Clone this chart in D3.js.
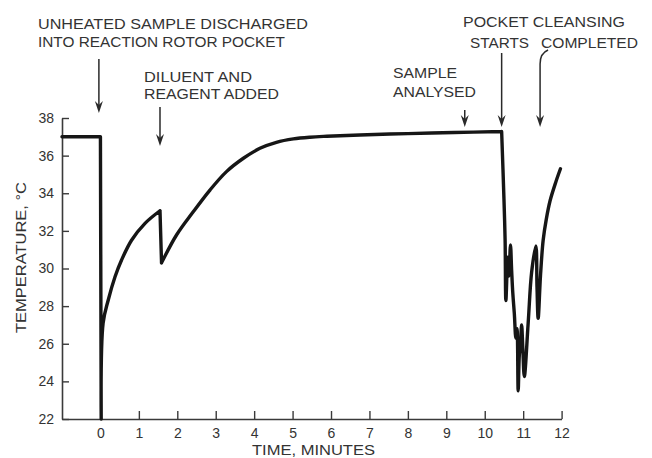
<!DOCTYPE html>
<html>
<head>
<meta charset="utf-8">
<script src="https://cdn.jsdelivr.net/npm/d3@7/dist/d3.min.js"></script>
<style>
  html, body { margin: 0; padding: 0; background: #fff; }
  svg { display: block; }
  text { font-family: "Liberation Sans", Arial, sans-serif; fill: #333; }
</style>
</head>
<body>
<svg id="chart" width="652" height="458"></svg>
<script>
// Temperature in the reaction rotor pocket over one analysis cycle
const times = [-1, 0, 0.02, 0.07, 0.2, 0.38, 0.55, 0.81, 1.16, 1.55,
  1.59, 1.98, 2.41, 2.85, 3.28, 3.72, 4.15, 4.58, 5.02, 5.45, 5.89, 6.75, 8, 9.2, 10.44,
  10.5, 10.53, 10.55, 10.6, 10.63, 10.67, 10.7, 10.73, 10.77, 10.81, 10.84, 10.87,
  10.9, 10.93, 10.96, 10.99, 11.03, 11.13, 11.22, 11.33, 11.36, 11.39, 11.45, 11.52,
  11.6, 11.7, 11.85, 11.97];
const temps = [37, 37, 22, 27.1, 28.3, 29.56, 30.45, 31.5, 32.4, 33.07,
  30.3, 31.78, 33.0, 34.17, 35.15, 35.86, 36.39, 36.71, 36.89, 36.98, 37.03, 37.1, 37.17, 37.23, 37.28,
  33.7, 31.5, 28.3, 30.6, 29.6, 31.25, 29.9, 28.7, 27.6, 26.3, 26.8, 23.5,
  25.4, 26.0, 27.0, 25.8, 24.25, 27.1, 29.8, 31.2, 29.0, 27.35, 29.6, 31.5,
  32.6, 33.6, 34.6, 35.3];
// times at which the trace turns sharply (drops and recoveries)
const cornerTimes = [0, 0.02, 1.55, 1.59, 10.44];

const xTicks = [0, 1, 2, 3, 4, 5, 6, 7, 8, 9, 10, 11, 12];
const yTicks = [22, 24, 26, 28, 30, 32, 34, 36, 38];

// Event annotations: time of the arrow and its label lines
const eventTimes = [-0.04, 1.55, 9.48, 10.44, 11.44];
const eventLabels = [
  ["UNHEATED SAMPLE DISCHARGED", "INTO REACTION ROTOR POCKET"],
  ["DILUENT AND", "REAGENT ADDED"],
  ["SAMPLE", "ANALYSED"],
  ["POCKET CLEANSING", "STARTS"],
  ["COMPLETED"]
];

const svg = d3.select("#chart");
const x = d3.scaleLinear().domain([-1, 12]).range([62, 561.6]);
const y = d3.scaleLinear().domain([22, 38]).range([419, 118]);

const axisColor = "#3a3a3a";

// y axis, ticks pointing inward
const gy = svg.append("g").attr("transform", `translate(${x(-1)},0)`)
  .call(d3.axisLeft(y).tickValues(yTicks).tickSize(-7).tickSizeOuter(0).tickPadding(8));
// x axis, ticks pointing up
const gx = svg.append("g").attr("transform", `translate(0,${y(22)})`)
  .call(d3.axisBottom(x).tickValues(xTicks).tickSize(-8).tickSizeOuter(0).tickPadding(9));

[gx, gy].forEach(g => {
  g.select(".domain").attr("stroke", axisColor).attr("stroke-width", 1.6);
  g.selectAll(".tick line").attr("stroke", axisColor).attr("stroke-width", 1.4);
  g.selectAll(".tick text").attr("fill", "#333").style("font-size", "14px")
    .style("font-family", '"Liberation Sans", Arial, sans-serif');
});

// axis titles
svg.append("text")
  .attr("x", 252).attr("y", 455)
  .attr("textLength", 123).attr("lengthAdjust", "spacingAndGlyphs")
  .style("font-size", "14px")
  .text("TIME, MINUTES");

svg.append("text")
  .attr("transform", "translate(26,333) rotate(-90)")
  .attr("textLength", 151).attr("lengthAdjust", "spacingAndGlyphs")
  .style("font-size", "14px")
  .text("TEMPERATURE, °C");

// temperature trace: smooth pieces joined at the sharp corners
const pts = times.map((t, i) => [t, temps[i]]);
const segments = [];
let cur = [pts[0]];
for (let i = 1; i < pts.length; i++) {
  cur.push(pts[i]);
  if (cornerTimes.includes(pts[i][0])) { segments.push(cur); cur = [pts[i]]; }
}
if (cur.length > 1) segments.push(cur);

const trace = d3.line().x(d => x(d[0])).y(d => y(d[1])).curve(d3.curveCatmullRom.alpha(0.5));
svg.append("path")
  .attr("fill", "none")
  .attr("stroke", "#161616")
  .attr("stroke-width", 3.4)
  .attr("stroke-linejoin", "round")
  .attr("stroke-linecap", "round")
  .attr("d", segments.map(s => trace(s)).join(""));

// annotation labels
const labelLayout = [
  { x: 38, y: [29, 47], len: [270, 247] },
  { x: 144, y: [82, 99], len: [108, 135] },
  { x: 393, y: [78, 97], len: [64, 83] },
  { x: 463, y: [27, 48], len: [162, 59], dx: [0, 7] },
  { x: 541, y: [48], len: [97] }
];
eventLabels.forEach((lines, i) => {
  const L = labelLayout[i];
  lines.forEach((s, j) => {
    svg.append("text")
      .attr("x", L.x + (L.dx ? L.dx[j] : 0)).attr("y", L.y[j])
      .attr("textLength", L.len[j]).attr("lengthAdjust", "spacingAndGlyphs")
      .style("font-size", "15px")
      .text(s);
  });
});

// arrows
const arrowSpan = [[59, 113], [107, 146], [110, 127], [53, 127], [64, 127]];
const arrowColor = "#2a2a2a";
eventTimes.forEach((t, i) => {
  const ax = x(t);
  const [y0, y1] = arrowSpan[i];
  let d = `M${ax},${y0} L${ax},${y1 - 6}`;
  if (i === 4) d = `M${ax + 8},${50} C${ax + 3},${52} ${ax},${57} ${ax},${y0} L${ax},${y1 - 6}`;
  svg.append("path").attr("d", d).attr("fill", "none")
    .attr("stroke", arrowColor).attr("stroke-width", 1.5);
  svg.append("path")
    .attr("d", `M${ax},${y1} L${ax - 4},${y1 - 12} L${ax},${y1 - 8} L${ax + 4},${y1 - 12} Z`)
    .attr("fill", arrowColor);
});
</script>
</body>
</html>
